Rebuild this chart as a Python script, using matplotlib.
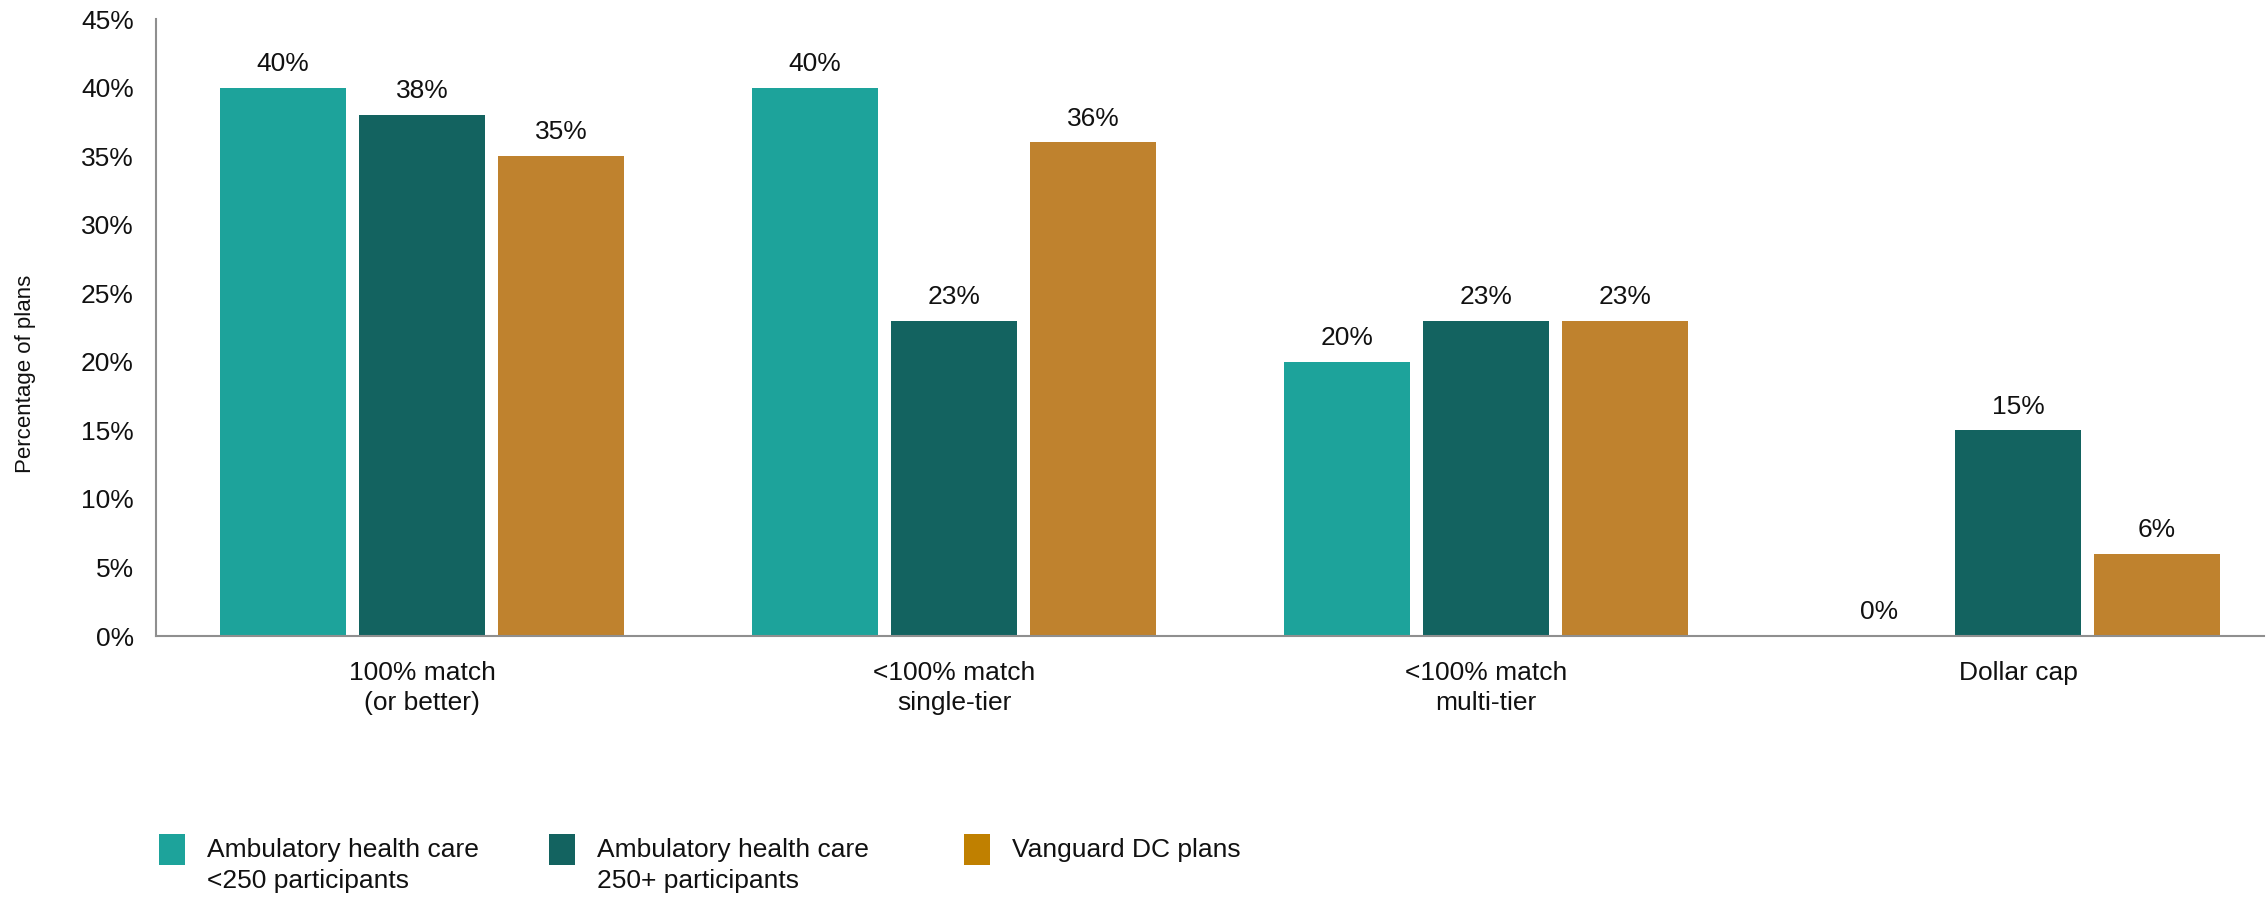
import matplotlib
matplotlib.use("Agg")
import matplotlib.pyplot as plt
from matplotlib.patches import Rectangle
from matplotlib.ticker import FuncFormatter
import numpy as np

plt.rcParams.update({
    "font.family": ["Liberation Sans", "DejaVu Sans"],
    "font.size": 19,
})

# ── Data ────────────────────────────────────────────────────────────────
categories = ["100% match\n(or better)", "<100% match\nsingle-tier",
              "<100% match\nmulti-tier", "Dollar cap"]
series_names = ["Ambulatory health care\n<250 participants",
                "Ambulatory health care\n250+ participants",
                "Vanguard DC plans"]
small_plans = [40, 40, 20, 0]
large_plans = [38, 23, 23, 15]
vanguard_dc = [35, 36, 23, 6]
series_values = [small_plans, large_plans, vanguard_dc]
y_ticks = [0, 5, 10, 15, 20, 25, 30, 35, 40, 45]

C_TEAL = "#1da39b"
C_DARK = "#136360"
C_GOLD = "#bf822e"
C_GOLD_KEY = "#c08000"
bar_colors = [C_TEAL, C_DARK, C_GOLD]
key_colors = [C_TEAL, C_DARK, C_GOLD_KEY]
C_AXIS = "#8f8f8f"

W, H = 2267, 897
fig = plt.figure(figsize=(W / 100, H / 100), dpi=100)
ax = fig.add_axes([156 / W, 1 - 636 / H, (2264 - 156) / W, (636 - 19) / H])

x = np.arange(len(categories))
step = 0.261
width = 0.236
for i, (vals, col) in enumerate(zip(series_values, bar_colors)):
    pos = x + (i - 1) * step
    bars = ax.bar(pos, vals, width=width, color=col, zorder=2)
    for b, v in zip(bars, vals):
        ax.annotate(f"{v}%", (b.get_x() + b.get_width() / 2, v),
                    xytext=(0, 8.5), textcoords="offset points",
                    ha="center", va="bottom", fontsize=19, color="#111111")

ax.set_xlim(-0.5, 3.462)
ax.set_ylim(0, 45)
ax.set_yticks(y_ticks)
ax.yaxis.set_major_formatter(FuncFormatter(lambda v, _: f"{v:.0f}%"))
ax.set_xticks(x)
ax.set_xticklabels(categories, linespacing=1.3)
ax.tick_params(axis="y", length=0, pad=16, labelsize=19, labelcolor="#111111")
ax.tick_params(axis="x", length=0, pad=18, labelsize=19, labelcolor="#111111")

for side in ("top", "right"):
    ax.spines[side].set_visible(False)
for side in ("left", "bottom"):
    ax.spines[side].set_color(C_AXIS)
    ax.spines[side].set_linewidth(1.5)

ax.set_ylabel("Percentage of plans", fontsize=16, color="#111111")
ax.yaxis.set_label_coords(-0.057, 0.425)

# ── Legend (keys aligned to first text line) ─────────────────────────────
key_x = [159, 549, 964]
for kx, name, col in zip(key_x, series_names, key_colors):
    fig.add_artist(Rectangle((kx / W, 1 - 865 / H), 26 / W, 31 / H,
                             transform=fig.transFigure, color=col, lw=0))
    fig.text((kx + 48) / W, 1 - 838 / H, name, ha="left", va="top",
             fontsize=19, linespacing=1.38, color="#111111")

fig.savefig("out.png", dpi=100)
